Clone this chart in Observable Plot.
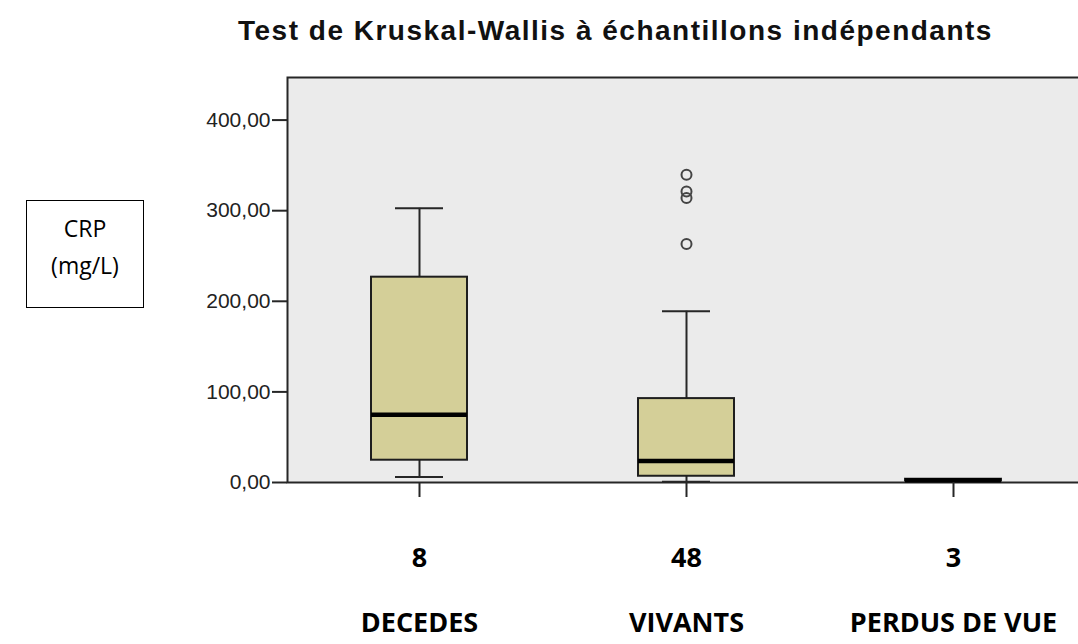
<!DOCTYPE html>
<html>
<head>
<meta charset="utf-8">
<script src="https://cdn.jsdelivr.net/npm/d3@7"></script>
<script src="https://cdn.jsdelivr.net/npm/@observablehq/plot@0.6"></script>
<style>
  html, body { margin: 0; padding: 0; background: #fff; overflow: hidden; }
  #wrap { position: relative; width: 1078px; height: 644px; }
  #chart { position: absolute; left: 0; top: 0; }
  #title { position: absolute; left: 238px; top: 17px; white-space: nowrap;
    font-family: "Liberation Sans", Arial, sans-serif; font-weight: bold; font-size: 28px;
    line-height: 28px; letter-spacing: 1.5px; color: #111; }
  #ylab { position: absolute; left: 26px; top: 200px; width: 118px; height: 108px;
    border: 1.5px solid #000; background: #fff; text-align: center;
    font-family: "Open Sans", sans-serif; font-size: 23px; line-height: 37px;
    padding-top: 9px; box-sizing: border-box; color: #000; }
</style>
</head>
<body>
<div id="wrap">
  <div id="chart"></div>
  <div id="title">Test de Kruskal-Wallis à échantillons indépendants</div>
  <div id="ylab">CRP<br>(mg/L)</div>
</div>
<script>
// ---- data ----
const categories = ["DECEDES", "VIVANTS", "PERDUS DE VUE"];
const counts = [8, 48, 3];
const whiskerLow = [6.2, 0.7, 2.6];
const q1 = [24.6, 6.9, 1.6];
const median = [74.9, 23.8, 2.6];
const q3 = [226.6, 92.6, 3.6];
const whiskerHigh = [302.6, 189.0, 2.6];
const outlierGroup = ["VIVANTS", "VIVANTS", "VIVANTS", "VIVANTS"];
const outlierValues = [339.7, 321.3, 314.0, 263.3];
const yTicks = [0, 100, 200, 300, 400];

const boxes = categories.map((c, i) => ({
  cat: c, n: counts[i], lo: whiskerLow[i], q1: q1[i], med: median[i], q3: q3[i], hi: whiskerHigh[i]
}));
const outliers = outlierGroup.map((c, i) => ({cat: c, v: outlierValues[i]}));

const edge = "#262626";
const chart = Plot.plot({
  width: 1078,
  height: 644,
  marginLeft: 287,
  marginRight: -7,
  marginTop: 77,
  marginBottom: 162,
  style: {background: "transparent", fontFamily: "Liberation Sans, Arial, sans-serif", overflow: "hidden"},
  x: {type: "band", domain: categories, paddingInner: 0.642, paddingOuter: 0.31},
  y: {domain: [0, 447]},
  marks: [
    Plot.frame({fill: "#ebebeb", stroke: edge, strokeWidth: 2}),
    Plot.ruleX(boxes, {x: "cat", y1: "lo", y2: "q1", stroke: edge, strokeWidth: 2}),
    Plot.ruleX(boxes, {x: "cat", y1: "q3", y2: "hi", stroke: edge, strokeWidth: 2}),
    Plot.tickY(boxes, {x: "cat", y: "lo", insetLeft: 24, insetRight: 24, stroke: edge, strokeWidth: 2}),
    Plot.tickY(boxes, {x: "cat", y: "hi", insetLeft: 24, insetRight: 24, stroke: edge, strokeWidth: 2}),
    Plot.barY(boxes, {x: "cat", y1: "q1", y2: "q3", fill: "#d4cf98", stroke: "#1e1e1e", strokeWidth: 2}),
    Plot.tickY(boxes, {x: "cat", y: "med", stroke: "#000", strokeWidth: 4.5}),
    Plot.dot(outliers, {x: "cat", y: "v", r: 5, stroke: "#444", strokeWidth: 2, fill: "none"}),
    Plot.axisY({ticks: yTicks, tickSize: 15, tickPadding: 2, tickFormat: d => d.toFixed(2).replace(".", ","),
      label: null, fontSize: 21, stroke: edge, strokeWidth: 2, fill: "#222"}),
    Plot.axisX({tickSize: 15, tickFormat: () => "", label: null, stroke: edge, strokeWidth: 2}),
    Plot.text(boxes, {x: "cat", text: "n", frameAnchor: "bottom", dy: 84,
      fontSize: 27, fontWeight: "bold", fontFamily: "Open Sans", fill: "#000"}),
    Plot.text(boxes, {x: "cat", text: "cat", frameAnchor: "bottom", dy: 149,
      fontSize: 27, fontWeight: "bold", fontFamily: "Open Sans", fill: "#000"})
  ]
});
document.getElementById("chart").appendChild(chart);
</script>
</body>
</html>
